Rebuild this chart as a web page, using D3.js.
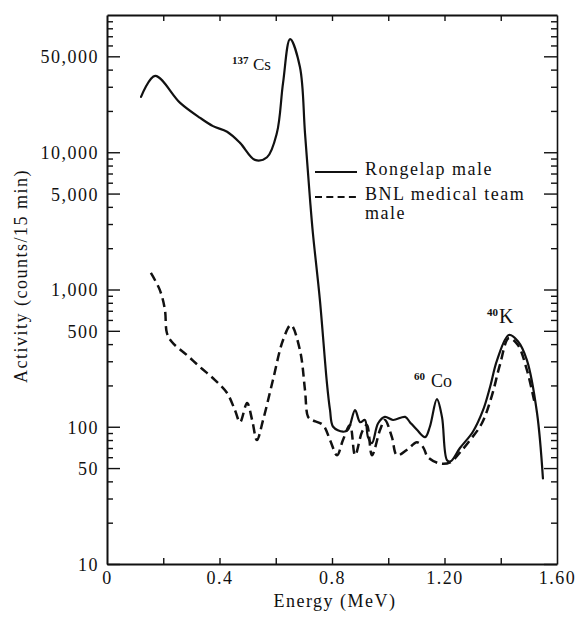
<!DOCTYPE html>
<html>
<head>
    <title>Whole-body gamma spectra</title>
    <meta charset="utf-8">

    <style>
        body {
            margin: 0;
            background: #fff;
        }

        svg {
            font-family: "Liberation Serif", "DejaVu Serif", serif;
        }

        .axis path,
        .axis line {
            stroke: #111;
        }

        .axis path {
            stroke-width: 2px;
        }

        .axis line {
            stroke-width: 1.4px;
        }

        .axis text {
            font-family: "Liberation Serif", serif;
            font-size: 18px;
            letter-spacing: 1.5px;
            fill: #111;
        }

        path.series {
            fill: none;
            stroke: #111;
            stroke-linejoin: round;
            stroke-linecap: round;
        }

        path.rongelap {
            stroke-width: 2.2px;
        }

        path.bnl {
            stroke-width: 2.5px;
            stroke-dasharray: 9 5;
            stroke-linecap: butt;
        }

        text.label {
            font-size: 18px;
            letter-spacing: 1.5px;
            fill: #111;
        }
    </style>

    <script src="https://cdn.jsdelivr.net/npm/d3@7"></script>
</head>

<body>
    <svg width="576" height="621"></svg>

    <script>

        // Energy (MeV) of each point
        var rongelapEnergy = [0.121, 0.171, 0.260, 0.331, 0.377, 0.427, 0.473, 0.526, 0.569, 0.604, 0.626, 0.651,
            0.686, 0.704, 0.722, 0.732, 0.757, 0.782, 0.793, 0.804, 0.839, 0.857, 0.882, 0.900, 0.917, 0.928,
            0.942, 0.964, 0.988, 1.017, 1.060, 1.077, 1.102, 1.131, 1.148, 1.173, 1.191, 1.209, 1.222, 1.255,
            1.301, 1.337, 1.362, 1.387, 1.429, 1.461, 1.493, 1.529, 1.550];
        var rongelapCounts = [25300, 36000, 22900, 17800, 15500, 14100, 11700, 8800, 9200, 13800, 32000, 66800,
            41800, 13800, 4490, 2580, 838, 208, 132, 100, 92, 95, 132, 108, 112, 84,
            76, 106, 118, 112, 118, 108, 95, 84, 100, 159, 118, 57, 56, 70,
            92, 132, 195, 306, 466, 420, 306, 126, 42];

        var bnlEnergy = [0.156, 0.188, 0.206, 0.213, 0.231, 0.284, 0.331, 0.384, 0.427, 0.455, 0.473, 0.498,
            0.516, 0.533, 0.555, 0.590, 0.626, 0.654, 0.686, 0.704, 0.715, 0.729, 0.768, 0.793, 0.818, 0.839,
            0.864, 0.882, 0.907, 0.924, 0.942, 0.971, 0.988, 1.013, 1.031, 1.067, 1.102, 1.124, 1.141, 1.184,
            1.220, 1.255, 1.291, 1.333, 1.369, 1.397, 1.429, 1.461, 1.493, 1.522];
        var bnlCounts = [1320, 990, 710, 482, 414, 333, 272, 219, 176, 132, 108, 149,
            112, 80, 112, 219, 429, 551, 362, 185, 118, 112, 103, 80, 62, 80,
            103, 62, 92, 103, 62, 95, 112, 84, 62, 68, 77, 71, 60, 54,
            55, 65, 80, 106, 170, 282, 443, 394, 259, 144];

        var seriesNames = ["Rongelap male", "BNL medical team", "male"];

        var energyTicks = [0, 0.2, 0.4, 0.6, 0.8, 1.0, 1.2, 1.4, 1.6];
        var energyTickLabels = ["0", "", "0.4", "", "0.8", "", "1.20", "", "1.60"];

        var activityMajorTicks = [10, 50, 100, 500, 1000, 5000, 10000, 50000];
        var activityTickLabels = ["10", "50", "100", "500", "1,000", "5,000", "10,000", "50,000"];

        var peakNames = [
            { iso: "137", el: "Cs" },
            { iso: "60", el: "Co" },
            { iso: "40", el: "K" }
        ];

        var svg = d3.select("svg");

        var plotLeft = 107, plotRight = 557, plotTop = 15, plotBottom = 564;

        var x = d3.scaleLinear().domain([0, 1.6]).range([plotLeft, plotRight]);
        var y = d3.scaleLog().domain([10, 100000]).range([plotBottom, plotTop]);

        // minor log ticks 2..9 in every decade
        var minorTicks = [];
        [10, 100, 1000, 10000].forEach(function (d) {
            for (var k = 2; k <= 9; k++) {
                var v = d * k;
                if (activityMajorTicks.indexOf(v) < 0) minorTicks.push(v);
            }
        });

        // ---- Axes ----
        var gLeft = svg.append("g").attr("class", "axis")
            .attr("transform", "translate(" + plotLeft + ",0)")
            .call(d3.axisLeft(y).tickValues(activityMajorTicks)
                .tickFormat(function (d, i) { return activityTickLabels[i]; })
                .tickSizeInner(-13).tickSizeOuter(0).tickPadding(8));
        gLeft.selectAll("text").attr("dy", "0.36em");

        svg.append("g").attr("class", "axis")
            .attr("transform", "translate(" + plotLeft + ",0)")
            .call(d3.axisLeft(y).tickValues(minorTicks).tickFormat("")
                .tickSizeInner(-6).tickSizeOuter(0))
            .select(".domain").remove();

        svg.append("g").attr("class", "axis")
            .attr("transform", "translate(" + plotRight + ",0)")
            .call(d3.axisRight(y).tickValues(activityMajorTicks).tickFormat("")
                .tickSizeInner(-13).tickSizeOuter(0))
            .select(".domain").style("stroke-width", "1.6px");

        svg.append("g").attr("class", "axis")
            .attr("transform", "translate(" + plotRight + ",0)")
            .call(d3.axisRight(y).tickValues(minorTicks).tickFormat("")
                .tickSizeInner(-6).tickSizeOuter(0))
            .select(".domain").remove();

        var gBottom = svg.append("g").attr("class", "axis")
            .attr("transform", "translate(0," + plotBottom + ")")
            .call(d3.axisBottom(x).tickValues(energyTicks)
                .tickFormat(function (d, i) { return energyTickLabels[i]; })
                .tickSizeInner(-6).tickSizeOuter(0).tickPadding(7));
        gBottom.selectAll(".tick line").filter(function (d) { return d === 0 || d === 1.6; }).remove();

        svg.append("g").attr("class", "axis")
            .attr("transform", "translate(0," + plotTop + ")")
            .call(d3.axisTop(x).tickValues(energyTicks.slice(1, -1)).tickFormat("")
                .tickSizeInner(-6).tickSizeOuter(0));

        // axis titles
        svg.append("text").attr("class", "label")
            .attr("text-anchor", "middle")
            .attr("transform", "translate(27,276) rotate(-90)")
            .text("Activity (counts/15 min)");

        svg.append("text").attr("class", "label")
            .attr("x", 335).attr("y", 607)
            .attr("text-anchor", "middle")
            .text("Energy (MeV)");

        // ---- Curves ----
        var line = d3.line()
            .curve(d3.curveCatmullRom.alpha(0.5))
            .x(function (d) { return x(d[0]); })
            .y(function (d) { return y(d[1]); });

        svg.append("path").attr("class", "series bnl")
            .attr("d", line(d3.zip(bnlEnergy, bnlCounts)));

        svg.append("path").attr("class", "series rongelap")
            .attr("d", line(d3.zip(rongelapEnergy, rongelapCounts)));

        // ---- Legend ----
        var legend = svg.append("g");
        legend.append("line")
            .attr("x1", 315).attr("x2", 357).attr("y1", 172).attr("y2", 172)
            .attr("stroke", "#111").attr("stroke-width", 1.8);
        legend.append("line")
            .attr("x1", 315).attr("x2", 357).attr("y1", 197).attr("y2", 197)
            .attr("stroke", "#111").attr("stroke-width", 1.8)
            .attr("stroke-dasharray", "7 4.3");
        legend.append("text").attr("class", "label").attr("x", 365).attr("y", 175).text(seriesNames[0]);
        legend.append("text").attr("class", "label").attr("x", 365).attr("y", 200).text(seriesNames[1]);
        legend.append("text").attr("class", "label").attr("x", 365).attr("y", 219).text(seriesNames[2]);

        // ---- Peak labels ----
        var peakPos = [
            { sx: 232, sy: 64, ex: 253, ey: 70, fs: 17 },
            { sx: 414, sy: 380, ex: 431, ey: 387, fs: 18 },
            { sx: 487, sy: 316, ex: 499, ey: 323, fs: 20 }
        ];
        peakNames.forEach(function (p, i) {
            var pos = peakPos[i];
            svg.append("text").attr("x", pos.sx).attr("y", pos.sy)
                .attr("font-size", 11).attr("font-weight", "bold").attr("fill", "#111")
                .text(p.iso);
            svg.append("text").attr("x", pos.ex).attr("y", pos.ey)
                .attr("font-size", pos.fs).attr("fill", "#111")
                .text(p.el);
        });

    </script>
</body>
</html>
